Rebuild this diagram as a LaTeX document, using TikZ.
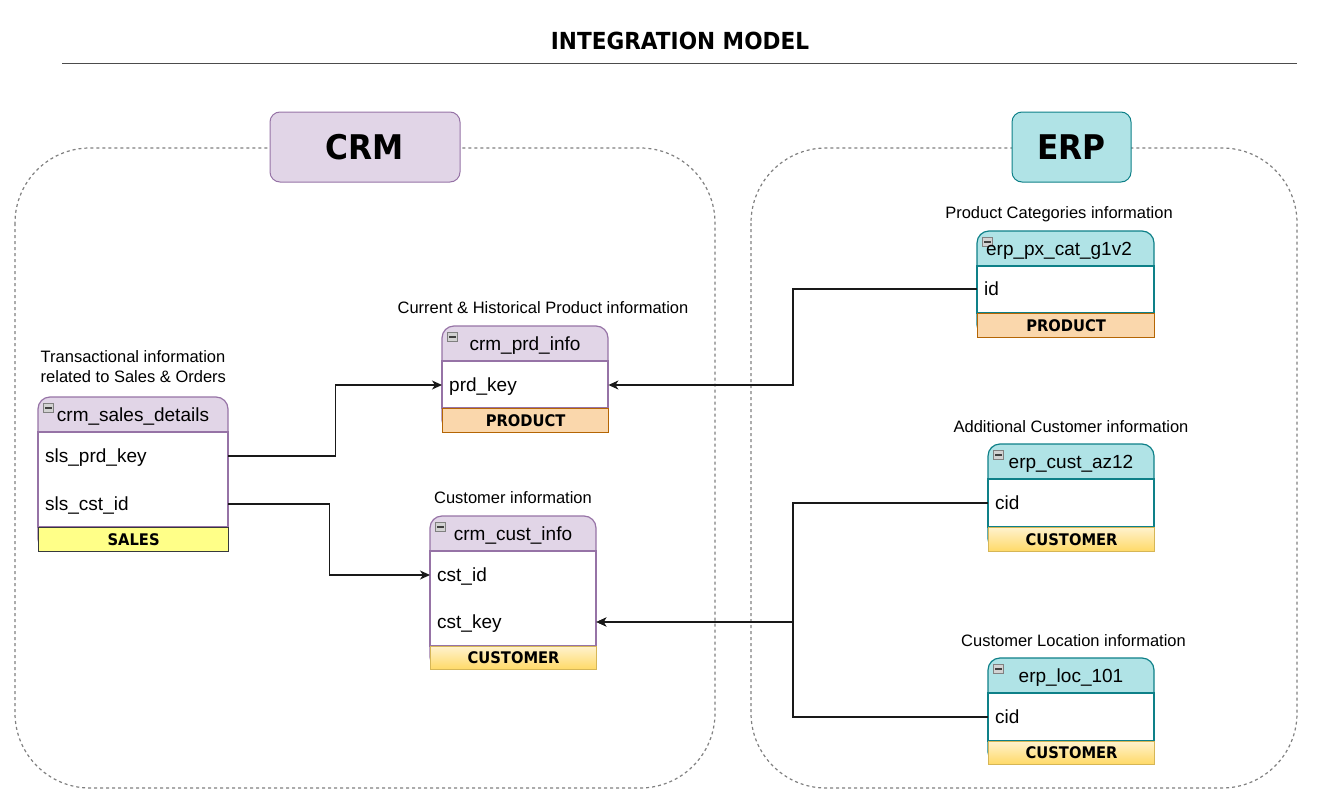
\documentclass[tikz,border=0pt]{standalone}
\usepackage{fontspec}
\setmainfont{Liberation Sans}
\newfontfamily\labelfont{DejaVu Sans}[FakeStretch=0.92]
\usepackage{tikz}
\usetikzlibrary{arrows.meta}

\definecolor{crmfill}{HTML}{E1D5E7}
\definecolor{crmline}{HTML}{9673A6}
\definecolor{erpfill}{HTML}{B0E3E6}
\definecolor{erpline}{HTML}{0E8088}
\definecolor{salesfill}{HTML}{FFFF88}
\definecolor{salesline}{HTML}{36393D}
\definecolor{prodfill}{HTML}{FAD7AC}
\definecolor{prodline}{HTML}{B46504}
\definecolor{custtop}{HTML}{FFF2CC}
\definecolor{custbot}{HTML}{FFD966}
\definecolor{custline}{HTML}{D6B656}

\tikzset{
  maintitle/.style={font=\labelfont\bfseries\fontsize{23.5}{28}\selectfont, anchor=base},
  sysbox/.style={draw=gray, line width=1.2pt, dash pattern=on 3pt off 3pt, rounded corners=75pt},
  syshead/.style={rounded corners=10pt, line width=1pt, minimum height=70pt,
    font=\labelfont\bfseries\fontsize{34}{40}\selectfont},
  tabcap/.style={font=\fontsize{16.5}{19.7}\selectfont, anchor=base, inner sep=0},
  tabshell/.style={rounded corners=12pt, line width=1.2pt},
  tabbody/.style={fill=white, line width=1.2pt},
  tabname/.style={font=\fontsize{19}{22}\selectfont, text height=14pt, text depth=1pt, inner sep=0},
  tabfield/.style={anchor=west, font=\fontsize{19}{22}\selectfont, text height=14pt, text depth=1pt,
    inner xsep=7pt, align=left},
  tabfoot/.style={anchor=north west, line width=1.2pt, inner sep=0,
    font=\labelfont\bfseries\fontsize{16}{19}\selectfont},
  minusbox/.style={draw=gray, fill=gray!35, minimum width=10pt, minimum height=9pt, inner sep=0,
    path picture={\draw[black!75, line width=1.5pt] ([xshift=1.5pt]path picture bounding box.west)
      -- ([xshift=-1.5pt]path picture bounding box.east);}},
  relation/.style={-{Stealth[length=10pt, width=9pt, inset=3pt]}, line width=1.2pt, black!90}
}

\begin{document}
\begin{tikzpicture}[x=1pt, y=-1pt]
  \useasboundingbox (0,0) rectangle (1325,792);

  % title
  \node[maintitle] (title) at (680,50) {INTEGRATION MODEL};
  \draw[gray!60!black, line width=1.5pt] (62,63.5) -- (1297,63.5);

  % source systems
  \draw[sysbox] (15,148) rectangle (715,788);
  \draw[sysbox] (751,148) rectangle (1297,788);
  \node[syshead, fill=crmfill, draw=crmline, minimum width=190pt] (crm) at (365,147) {CRM};
  \node[syshead, fill=erpfill, draw=erpline, minimum width=119pt] (erp) at (1071.5,147) {ERP};

  % crm_sales_details
  \node[tabcap, anchor=base west, align=left] (sdcap) at (40.5,382.5) {Transactional information\\related to Sales \& Orders};
  \draw[tabshell, draw=crmline, fill=crmfill] (38,397) rectangle (228,551);
  \draw[tabbody, draw=crmline] (38,432) rectangle (228,527);
  \node[minusbox] (sdbox) at (48.5,408) {};
  \node[tabname] (sd) at (133,414.5) {crm\_sales\_details};
  \node[tabfield, text width=176pt] (sdprd) at (38,456) {sls\_prd\_key};
  \node[tabfield, text width=176pt] (sdcst) at (38,504) {sls\_cst\_id};
  \node[tabfoot, fill=salesfill, draw=salesline, minimum width=190pt, minimum height=24pt] (sdfoot) at (38,527) {SALES};

  % crm_prd_info
  \node[tabcap] (prdcap) at (543,313) {Current \& Historical Product information};
  \draw[tabshell, draw=crmline, fill=crmfill] (442,326) rectangle (608,432);
  \draw[tabbody, draw=crmline] (442,361) rectangle (608,408);
  \node[minusbox] (prdbox) at (452.5,337) {};
  \node[tabname] (prd) at (525,343.5) {crm\_prd\_info};
  \node[tabfield, text width=152pt] (prdkey) at (442,385) {prd\_key};
  \node[tabfoot, fill=prodfill, draw=prodline, minimum width=166pt, minimum height=24pt] (prdfoot) at (442,408) {PRODUCT};

  % crm_cust_info
  \node[tabcap] (custcap) at (513,503) {Customer information};
  \draw[tabshell, draw=crmline, fill=crmfill] (430,516) rectangle (596,669);
  \draw[tabbody, draw=crmline] (430,551) rectangle (596,646);
  \node[minusbox] (custbox) at (440.5,527) {};
  \node[tabname] (cust) at (513,533.5) {crm\_cust\_info};
  \node[tabfield, text width=152pt] (cstid) at (430,575) {cst\_id};
  \node[tabfield, text width=152pt] (cstkey) at (430,622) {cst\_key};
  \node[tabfoot, top color=custtop, bottom color=custbot, draw=custline, minimum width=166pt, minimum height=23pt] (custfoot) at (430,646) {CUSTOMER};

  % erp_px_cat_g1v2
  \node[tabcap] (pxcap) at (1059,218) {Product Categories information};
  \draw[tabshell, draw=erpline, fill=erpfill] (977,231) rectangle (1154,337);
  \draw[tabbody, draw=erpline] (977,266) rectangle (1154,313);
  \node[minusbox] (pxbox) at (987.5,242) {};
  \node[tabname] (px) at (1059,248.5) {erp\_px\_cat\_g1v2};
  \node[tabfield, text width=163pt] (pxid) at (977,289) {id};
  \node[tabfoot, fill=prodfill, draw=prodline, minimum width=177pt, minimum height=24pt] (pxfoot) at (977,313) {PRODUCT};

  % erp_cust_az12
  \node[tabcap] (azcap) at (1071,432) {Additional Customer information};
  \draw[tabshell, draw=erpline, fill=erpfill] (988,444) rectangle (1154,551);
  \draw[tabbody, draw=erpline] (988,479) rectangle (1154,527);
  \node[minusbox] (azbox) at (998.5,455) {};
  \node[tabname] (az) at (1071,461.5) {erp\_cust\_az12};
  \node[tabfield, text width=152pt] (azcid) at (988,503) {cid};
  \node[tabfoot, top color=custtop, bottom color=custbot, draw=custline, minimum width=166pt, minimum height=24pt] (azfoot) at (988,527) {CUSTOMER};

  % erp_loc_101
  \node[tabcap] (loccap) at (1073.5,646.5) {Customer Location information};
  \draw[tabshell, draw=erpline, fill=erpfill] (988,658) rectangle (1154,764);
  \draw[tabbody, draw=erpline] (988,693) rectangle (1154,741);
  \node[minusbox] (locbox) at (998.5,669) {};
  \node[tabname] (loc) at (1071,675.5) {erp\_loc\_101};
  \node[tabfield, text width=152pt] (loccid) at (988,717) {cid};
  \node[tabfoot, top color=custtop, bottom color=custbot, draw=custline, minimum width=166pt, minimum height=23pt] (locfoot) at (988,741) {CUSTOMER};

  % relations
  \draw[relation] (sdprd.east) -- ++(107,0) |- (prdkey.west);
  \draw[relation] (sdcst.east) -- ++(101,0) |- (cstid.west);
  \draw[relation] (pxid.west) -- ++(-184,0) |- (prdkey.east);
  \draw[relation] (azcid.west) -- ++(-195,0) |- (cstkey.east);
  \draw[relation] (loccid.west) -- ++(-195,0) |- (cstkey.east);
\end{tikzpicture}
\end{document}
